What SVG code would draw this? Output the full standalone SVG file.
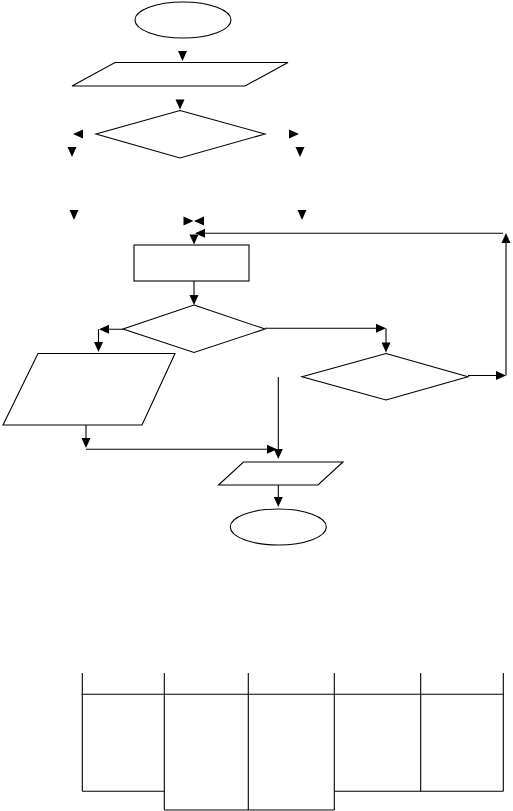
<svg xmlns="http://www.w3.org/2000/svg" xmlns:xlink="http://www.w3.org/1999/xlink" width="513" height="811" viewBox="0 0 513 811">
<style>
.s{fill:#fff;stroke:#000;stroke-width:1.1}
.c{fill:none;stroke:#000;stroke-width:1.1}
.t{fill:none;stroke:#000;stroke-width:1.1}
</style>
<defs>
<polygon id="ah" points="0,0 -4.5,-10 4.5,-10" fill="#000"/>
</defs>
<rect width="513" height="811" fill="#fff"/>
<g id="start"><ellipse class="s" cx="183" cy="20" rx="48" ry="18"/></g>
<g id="input1"><polygon class="s" points="115,62.5 288,62.5 245,86 72,86"/></g>
<g id="decision1"><polygon class="s" points="180,110.5 265,134 180,158 96,134"/></g>
<g id="process1"><rect class="s" x="134" y="245" width="115" height="36"/></g>
<g id="decision2"><polygon class="s" points="194,305 265,329 194,352.5 123,329"/></g>
<g id="output1"><polygon class="s" points="38,353.5 175,353.5 142,425 3,425"/></g>
<g id="decision3"><polygon class="s" points="386,353.5 468,376.7 386,400 302,376.7"/></g>
<g id="output2"><polygon class="s" points="243.5,462 343,462 318,485 218.5,485"/></g>
<g id="end"><ellipse class="s" cx="278.3" cy="527" rx="48" ry="18"/></g>
<g id="connectors">
<path class="c" d="M204,233.3 H503"/>
<path class="c" d="M468,375.5 H496 M506,375.5 V243"/>
<path class="c" d="M194,281 V295"/>
<path class="c" d="M123,329.3 H109 M98.5,329.3 V342"/>
<path class="c" d="M265,328.3 H376 M386,328.3 V343"/>
<path class="c" d="M86,425 V438"/>
<path class="c" d="M86,449.3 H267"/>
<path class="c" d="M278.3,377 V449"/>
<path class="c" d="M278.3,485 V497"/>
<use xlink:href="#ah" transform="translate(182.5,61)"/>
<use xlink:href="#ah" transform="translate(180,109.5)"/>
<use xlink:href="#ah" transform="translate(73,134) rotate(90)"/>
<use xlink:href="#ah" transform="translate(299,134) rotate(-90)"/>
<use xlink:href="#ah" transform="translate(72,157)"/>
<use xlink:href="#ah" transform="translate(300,157)"/>
<use xlink:href="#ah" transform="translate(74,220)"/>
<use xlink:href="#ah" transform="translate(302,220)"/>
<use xlink:href="#ah" transform="translate(193.5,221) rotate(-90)"/>
<use xlink:href="#ah" transform="translate(194,221) rotate(90)"/>
<use xlink:href="#ah" transform="translate(195,233.3) rotate(90)"/>
<use xlink:href="#ah" transform="translate(194,244.5)"/>
<use xlink:href="#ah" transform="translate(506,233) rotate(180)"/>
<use xlink:href="#ah" transform="translate(506,375.5) rotate(-90)"/>
<use xlink:href="#ah" transform="translate(194,305)"/>
<use xlink:href="#ah" transform="translate(99,329.3) rotate(90)"/>
<use xlink:href="#ah" transform="translate(98.5,352)"/>
<use xlink:href="#ah" transform="translate(386,328.3) rotate(-90)"/>
<use xlink:href="#ah" transform="translate(386,352.5)"/>
<use xlink:href="#ah" transform="translate(86,448)"/>
<use xlink:href="#ah" transform="translate(277,449.3) rotate(-90)"/>
<use xlink:href="#ah" transform="translate(278.3,459)"/>
<use xlink:href="#ah" transform="translate(278.3,507)"/>
</g>
<g id="table">
<path class="t" d="M82.3,673 V791.3 M420.7,673 V791.3 M503.3,673 V791.3"/>
<path class="t" d="M164.3,673 V810 M248.3,673 V810 M334.3,673 V810"/>
<path class="t" d="M81.5,694.3 H503.3"/>
<path class="t" d="M82.3,791.3 H164.3 M334.3,791.3 H503.3"/>
<path class="t" d="M164.3,810 H334.3"/>
</g>
</svg>
